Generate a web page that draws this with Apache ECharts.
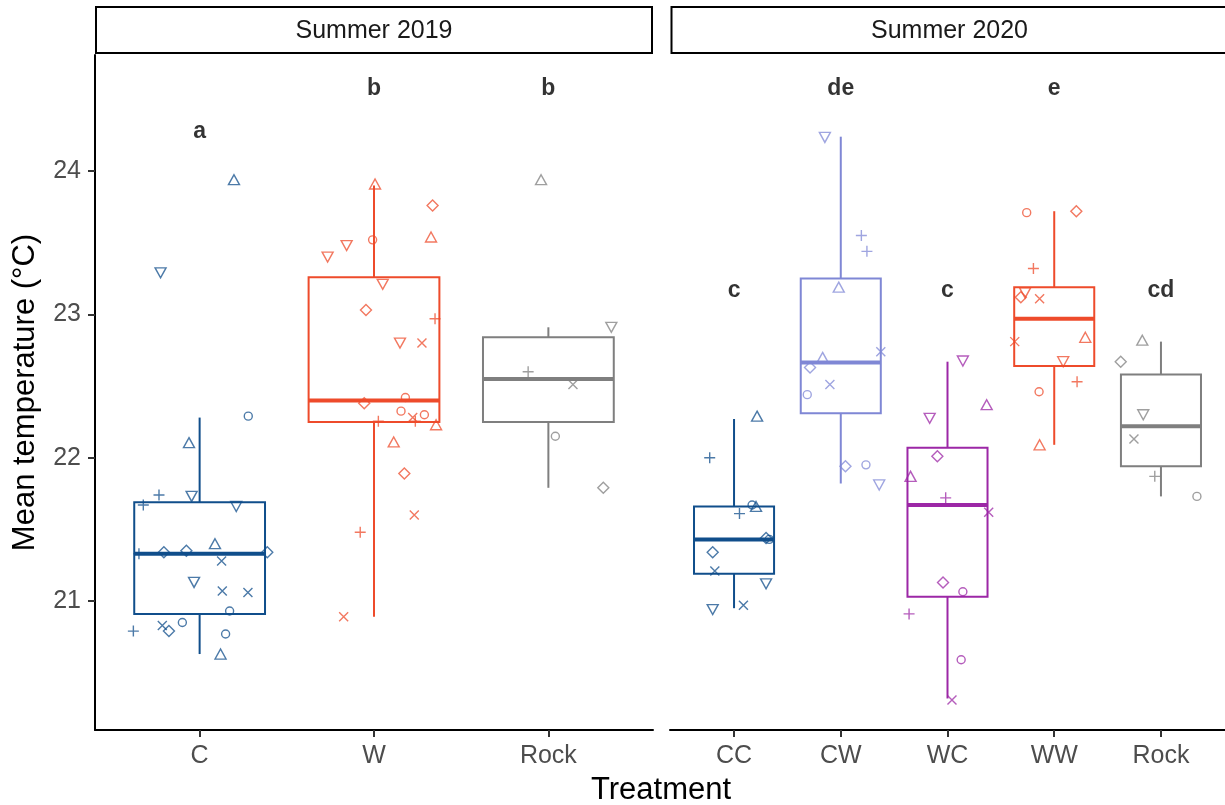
<!DOCTYPE html>
<html>
<head>
<meta charset="utf-8">
<script src="https://cdn.jsdelivr.net/npm/echarts@6/dist/echarts.min.js"></script>
<style>
  html, body { margin: 0; padding: 0; background: #fff; }
  #main { width: 1225px; height: 805px; }
</style>
</head>
<body>
<div id="main"></div>
<script>
// categories and tick labels
const cats2019 = ['C', 'W', 'Rock'];
const cats2020 = ['CC', 'CW', 'WC', 'WW', 'Rock'];
const yTicks = [21, 22, 23, 24];

// box stats: [lower whisker, Q1, median, Q3, upper whisker]
const boxC19    = [20.63, 20.91, 21.33, 21.69, 22.28];
const boxW19    = [20.89, 22.25, 22.40, 23.26, 23.90];
const boxRock19 = [21.79, 22.25, 22.55, 22.84, 22.91];
const boxCC     = [20.95, 21.19, 21.43, 21.66, 22.27];
const boxCW     = [21.82, 22.31, 22.665, 23.25, 24.24];
const boxWC     = [20.32, 21.03, 21.67, 22.07, 22.67];
const boxWW     = [22.09, 22.64, 22.97, 23.19, 23.72];
const boxRock20 = [21.73, 21.94, 22.22, 22.58, 22.81];

// jittered points: values, horizontal jitter (category units), shape codes
const valsC19 = [23.94, 23.29, 22.29, 22.105, 21.74, 21.67, 21.73, 21.66, 21.40, 21.33, 21.34, 21.35, 21.34, 21.28, 21.13, 21.07, 21.06, 20.93, 20.79, 20.83, 20.79, 20.85, 20.77, 20.63];
const jitC19  = [0.197, -0.224, 0.279, -0.061, -0.233, -0.323, -0.046, 0.21, 0.088, -0.348, -0.205, -0.076, 0.388, 0.126, -0.032, 0.13, 0.277, 0.172, -0.38, -0.214, -0.176, -0.099, 0.149, 0.12];
const shpC19  = ['^','v','o','^','+','+','v','v','^','+','d','d','d','x','v','x','x','o','+','x','d','o','o','^'];

const valsW19 = [23.91, 23.76, 23.52, 23.54, 23.48, 23.40, 23.21, 23.03, 22.97, 22.80, 22.80, 22.38, 22.42, 22.325, 22.28, 22.255, 22.30, 22.255, 22.23, 22.11, 21.89, 21.60, 21.48, 20.89];
const jitW19  = [0.006, 0.336, -0.008, 0.327, -0.157, -0.266, 0.05, -0.046, 0.35, 0.149, 0.275, -0.056, 0.18, 0.155, 0.222, 0.237, 0.289, 0.025, 0.356, 0.113, 0.174, 0.231, -0.079, -0.174];
const shpW19  = ['^','d','o','^','v','v','v','d','+','v','x','d','o','o','x','+','o','+','^','^','d','x','+','x'];

const valsRock19 = [23.94, 22.91, 22.60, 22.51, 22.15, 21.79];
const jitRock19  = [-0.042, 0.361, -0.116, 0.141, 0.04, 0.315];
const shpRock19  = ['^','v','+','x','o','d'];

const valsCC = [22.29, 22.00, 21.67, 21.66, 21.61, 21.44, 21.43, 21.34, 21.21, 21.12, 20.94, 20.97];
const jitCC  = [0.216, -0.228, 0.169, 0.206, 0.051, 0.3, 0.33, -0.2, -0.18, 0.3, -0.2, 0.088];
const shpCC  = ['^','+','o','^','+','d','o','d','x','v','v','x'];

const valsCW = [24.235, 23.55, 23.44, 23.19, 22.74, 22.70, 22.63, 22.51, 22.44, 21.94, 21.95, 21.81];
const jitCW  = [-0.149, 0.193, 0.245, -0.019, 0.375, -0.17, -0.288, -0.102, -0.314, 0.044, 0.236, 0.36];
const shpCW  = ['v','+','+','^','x','^','d','x','o','d','o','v'];

const valsWC = [22.675, 22.37, 22.275, 22.01, 21.87, 21.72, 21.62, 21.13, 21.065, 20.91, 20.59, 20.31];
const jitWC  = [0.144, 0.367, -0.167, -0.095, -0.346, -0.017, 0.386, -0.042, 0.144, -0.36, 0.128, 0.042];
const shpWC  = ['v','^','v','d','^','+','x','d','o','+','o','x'];

const valsWW = [23.71, 23.72, 23.32, 23.15, 23.12, 23.11, 22.81, 22.84, 22.67, 22.53, 22.46, 22.09];
const jitWW  = [-0.258, 0.207, -0.195, -0.273, -0.313, -0.137, -0.37, 0.291, 0.084, 0.214, -0.142, -0.137];
const shpWW  = ['o','d','+','v','d','x','x','^','v','+','o','^'];

const valsRock20 = [22.82, 22.67, 22.30, 22.13, 21.87, 21.73];
const jitRock20  = [-0.175, -0.377, -0.166, -0.253, -0.058, 0.337];
const shpRock20  = ['^','d','v','x','+','o'];

// significance letters and their heights
const letters2019 = ['a', 'b', 'b'];
const letterY2019 = [24.275, 24.575, 24.575];
const letters2020 = ['c', 'de', 'c', 'e', 'cd'];
const letterY2020 = [23.165, 24.575, 23.165, 24.575, 23.165];

// ---- styling ----
const FONT = '"Liberation Sans", Arial, Helvetica, sans-serif';
const BLUE = '#104E8B', ORANGE = '#EE4B2B', LAV = '#7F87D5', PURPLE = '#9C27A6', GREY = '#7F7F7F';
const colors2019 = [BLUE, ORANGE, GREY];
const colors2020 = [BLUE, LAV, PURPLE, ORANGE, GREY];

const SYMBOLS = {
  'o': 'circle',
  '^': 'triangle',
  'v': 'path://M0,0L20,0L10,17.32Z',
  '+': 'path://M0,10L20,10M10,0L10,20',
  'x': 'path://M0,0L20,20M20,0L0,20',
  'd': 'diamond'
};
const SIZES = { 'o': 8, '^': [11, 10], 'v': [11, 10], '+': 11, 'x': 9, 'd': [11, 11] };

const panels = [
  { cats: cats2019, colors: colors2019, boxes: [boxC19, boxW19, boxRock19],
    pts: [[valsC19, jitC19, shpC19], [valsW19, jitW19, shpW19], [valsRock19, jitRock19, shpRock19]],
    letters: letters2019, letterY: letterY2019 },
  { cats: cats2020, colors: colors2020, boxes: [boxCC, boxCW, boxWC, boxWW, boxRock20],
    pts: [[valsCC, jitCC, shpCC], [valsCW, jitCW, shpCW], [valsWC, jitWC, shpWC], [valsWW, jitWW, shpWW], [valsRock20, jitRock20, shpRock20]],
    letters: letters2020, letterY: letterY2020 }
];

function boxRenderer(colors) {
  return function (params, api) {
    const x = api.value(0);
    const lo = api.coord([x, api.value(1)]);
    const q1 = api.coord([x, api.value(2)]);
    const md = api.coord([x, api.value(3)]);
    const q3 = api.coord([x, api.value(4)]);
    const hi = api.coord([x, api.value(5)]);
    const hw = api.size([0.75, 0])[0] / 2;
    const col = colors[params.dataIndex];
    return {
      type: 'group',
      children: [
        { type: 'line', shape: { x1: hi[0], y1: hi[1], x2: q3[0], y2: q3[1] }, style: { stroke: col, lineWidth: 2 } },
        { type: 'line', shape: { x1: q1[0], y1: q1[1], x2: lo[0], y2: lo[1] }, style: { stroke: col, lineWidth: 2 } },
        { type: 'rect', shape: { x: q3[0] - hw, y: q3[1], width: 2 * hw, height: q1[1] - q3[1] },
          style: { fill: 'none', stroke: col, lineWidth: 2 } },
        { type: 'line', shape: { x1: md[0] - hw, y1: md[1], x2: md[0] + hw, y2: md[1] }, style: { stroke: col, lineWidth: 4 } }
      ]
    };
  };
}

const series = [];
panels.forEach((p, pi) => {
  series.push({
    type: 'custom', xAxisIndex: pi, yAxisIndex: pi, silent: true,
    renderItem: boxRenderer(p.colors),
    data: p.boxes.map((b, i) => [i].concat(b))
  });
  p.pts.forEach((g, gi) => {
    const [vals, jit, shp] = g;
    series.push({
      type: 'scatter', xAxisIndex: pi, yAxisIndex: pi, silent: true,
      data: vals.map((v, k) => ({
        value: [gi + jit[k], v],
        symbol: SYMBOLS[shp[k]],
        symbolSize: SIZES[shp[k]]
      })),
      itemStyle: { color: 'rgba(0,0,0,0)', borderColor: p.colors[gi], borderWidth: 1.4, opacity: 0.75 }
    });
  });
  series.push({
    type: 'scatter', xAxisIndex: pi, yAxisIndex: pi, silent: true,
    symbolSize: 1,
    itemStyle: { color: 'rgba(0,0,0,0)' },
    data: p.letters.map((l, i) => [i, p.letterY[i], l]),
    label: {
      show: true, position: 'inside', formatter: (d) => d.value[2],
      fontFamily: FONT, fontWeight: 'bold', fontSize: 23, color: '#000',
      textBorderWidth: 0, textShadowBlur: 0
    }
  });
});

const chart = echarts.init(document.getElementById('main'), null, { renderer: 'canvas' });
chart.setOption({
  animation: false,
  backgroundColor: '#fff',
  textStyle: { fontFamily: FONT },
  grid: [
    { left: 95, top: 55, width: 558, height: 675 },
    { left: 670, top: 55, width: 559, height: 675 }
  ],
  xAxis: panels.map((p, pi) => {
    const idx = p.cats.map((c, i) => i);
    return {
      type: 'value', gridIndex: pi, min: -0.6, max: p.cats.length - 0.4,
      axisLine: { show: true, onZero: false, lineStyle: { color: '#000', width: 2 } },
      axisTick: { show: true, length: 7, customValues: idx, lineStyle: { color: '#333', width: 2 } },
      axisLabel: { customValues: idx, formatter: (v) => p.cats[Math.round(v)], fontSize: 25, color: '#4d4d4d', margin: 14, fontFamily: FONT },
      splitLine: { show: false }
    };
  }),
  yAxis: [
    {
      type: 'value', gridIndex: 0, min: 20.1, max: 24.81,
      axisLine: { show: true, onZero: false, lineStyle: { color: '#000', width: 2 } },
      axisTick: { show: true, length: 7, customValues: yTicks, lineStyle: { color: '#333', width: 2 } },
      axisLabel: { customValues: yTicks, fontSize: 25, color: '#4d4d4d', margin: 14, fontFamily: FONT },
      splitLine: { show: false },
      name: 'Mean temperature (°C)', nameLocation: 'middle', nameGap: 54,
      nameTextStyle: { fontSize: 31, color: '#000', fontFamily: FONT }
    },
    {
      type: 'value', gridIndex: 1, min: 20.1, max: 24.81, show: false,
      axisLine: { show: false, onZero: false }, axisTick: { show: false },
      axisLabel: { show: false }, splitLine: { show: false }
    }
  ],
  graphic: [
    { type: 'rect', shape: { x: 96, y: 7, width: 556, height: 46 }, style: { fill: '#fff', stroke: '#000', lineWidth: 2 } },
    { type: 'rect', shape: { x: 671.5, y: 7, width: 600, height: 46 }, style: { fill: '#fff', stroke: '#000', lineWidth: 2 } },
    { type: 'text', x: 374, y: 31, style: { text: 'Summer 2019', fontSize: 25, fill: '#1a1a1a', font: '25px ' + FONT, textAlign: 'center', textVerticalAlign: 'middle' } },
    { type: 'text', x: 949.5, y: 31, style: { text: 'Summer 2020', fontSize: 25, fill: '#1a1a1a', font: '25px ' + FONT, textAlign: 'center', textVerticalAlign: 'middle' } },
    { type: 'text', x: 661, y: 790, style: { text: 'Treatment', fontSize: 31, fill: '#000', font: '31px ' + FONT, textAlign: 'center', textVerticalAlign: 'middle' } }
  ],
  series: series
});
</script>
</body>
</html>
